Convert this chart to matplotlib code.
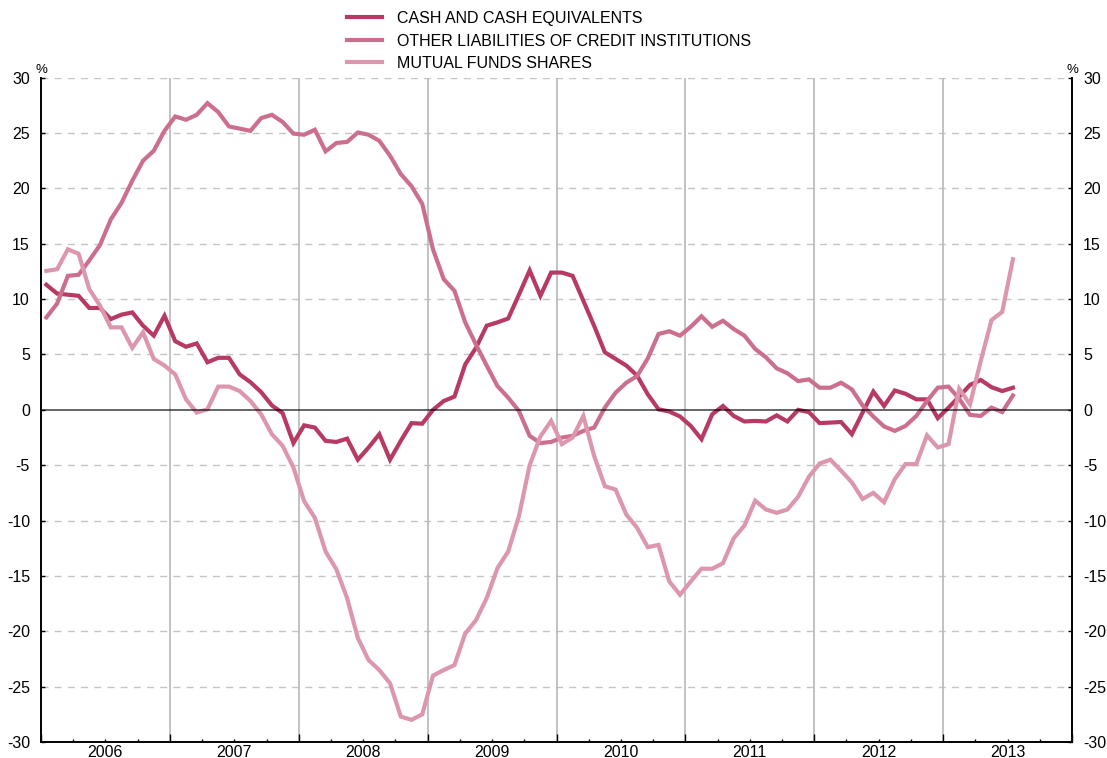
import matplotlib
matplotlib.use("Agg")
import matplotlib.pyplot as plt
import numpy as np
import pandas as pd
from matplotlib.ticker import FixedLocator, FuncFormatter, NullFormatter

plt.rcParams['font.family'] = ['Liberation Sans', 'DejaVu Sans']
plt.rcParams['axes.unicode_minus'] = False

# Monthly observations, Jan 2006 - Jul 2013 (annual % change)
months = pd.period_range('2006-01', '2013-07', freq='M')

cash = [11.3, 10.5, 10.4, 10.3, 9.2, 9.2, 8.2, 8.6, 8.8, 7.6, 6.7, 8.5,
        6.2, 5.7, 6.0, 4.3, 4.7, 4.7, 3.2, 2.5, 1.6, 0.4, -0.3, -3.0,
        -1.4, -1.6, -2.8, -2.9, -2.6, -4.5, -3.4, -2.2, -4.5, -2.8, -1.2, -1.25,
        0.0, 0.8, 1.2, 4.1, 5.6, 7.6, 7.9, 8.25, 10.4, 12.6, 10.3, 12.4,
        12.4, 12.1, 9.85, 7.6, 5.2, 4.6, 4.0, 3.1, 1.4, 0.05, -0.15, -0.6,
        -1.45, -2.65, -0.4, 0.35, -0.55, -1.05, -1.0, -1.05, -0.5, -1.05, 0.0, -0.2,
        -1.2, -1.15, -1.1, -2.2, -0.25, 1.65, 0.35, 1.75, 1.45, 0.95, 0.95, -0.75,
        0.2, 1.2, 2.25, 2.7, 2.05, 1.7, 2.0]

other_liabilities = [8.35, 9.6, 12.1, 12.2, 13.5, 14.9, 17.2, 18.7, 20.7, 22.5, 23.4, 25.2,
                     26.5, 26.2, 26.65, 27.7, 26.9, 25.6, 25.4, 25.2, 26.35, 26.65, 26.0, 24.95,
                     24.85, 25.3, 23.35, 24.1, 24.2, 25.05, 24.85, 24.3, 22.95, 21.3, 20.2, 18.6,
                     14.5, 11.8, 10.75, 7.9, 5.9, 4.0, 2.15, 1.1, -0.1, -2.35, -3.0, -2.9,
                     -2.5, -2.35, -1.9, -1.6, 0.2, 1.55, 2.45, 3.05, 4.65, 6.85, 7.1, 6.7,
                     7.5, 8.45, 7.5, 8.05, 7.3, 6.7, 5.5, 4.75, 3.75, 3.3, 2.6, 2.75,
                     2.0, 2.0, 2.45, 1.85, 0.4, -0.6, -1.5, -1.9, -1.45, -0.55, 0.8, 2.0,
                     2.1, 1.0, -0.45, -0.55, 0.2, -0.2, 1.3]

mutual_funds = [12.55, 12.7, 14.5, 14.1, 10.9, 9.4, 7.45, 7.45, 5.6, 7.0, 4.6, 4.0,
                3.2, 0.95, -0.25, 0.05, 2.1, 2.1, 1.7, 0.8, -0.4, -2.2, -3.25, -5.2,
                -8.25, -9.75, -12.8, -14.4, -17.0, -20.6, -22.6, -23.5, -24.7, -27.7, -28.0, -27.5,
                -24.0, -23.5, -23.05, -20.2, -19.0, -17.0, -14.3, -12.8, -9.6, -5.0, -2.4, -1.0,
                -3.1, -2.5, -0.55, -4.15, -6.9, -7.2, -9.45, -10.65, -12.4, -12.2, -15.5, -16.7,
                -15.5, -14.35, -14.35, -13.85, -11.6, -10.45, -8.2, -9.0, -9.3, -9.0, -7.85, -6.05,
                -4.85, -4.5, -5.5, -6.55, -8.05, -7.5, -8.35, -6.25, -4.9, -4.9, -2.3, -3.4,
                -3.1, 1.9, 0.5, 4.4, 8.1, 8.85, 13.6]

series_labels = ['CASH AND CASH EQUIVALENTS',
                 'OTHER LIABILITIES OF CREDIT INSTITUTIONS',
                 'MUTUAL FUNDS SHARES']
series_colors = ['#B73A62', '#CC6F8F', '#DC97AD']
years = list(range(2006, 2014))

# decimal-year position at the middle of each month
x = months.year + (months.month - 0.5) / 12.0

fig = plt.figure(figsize=(11.07, 7.58), dpi=100)
ax = fig.add_axes([41 / 1107, 1 - 742 / 758, (1072 - 41) / 1107, (742 - 77.7) / 758])

for vals, lab, col in zip([cash, other_liabilities, mutual_funds], series_labels, series_colors):
    ax.plot(x, vals, color=col, lw=3.0, label=lab, solid_joinstyle='miter', zorder=3)

ax.set_xlim(years[0], years[-1] + 1)
ax.set_ylim(-30, 30)

# horizontal dashed grid, year separators, zero line
yticks = np.arange(-30, 31, 5)
for yv in yticks:
    if yv != 0:
        ax.axhline(yv, color='#C4C4C4', lw=1.0, ls=(0, (5, 4.5)), zorder=1)
for yr in years[1:]:
    ax.axvline(yr, color='#B8B8B8', lw=1.2, zorder=1)
ax.axhline(0, color='black', lw=1.3, alpha=0.65, zorder=4)

# axes frame
ax.spines['top'].set_visible(False)
for s in ('left', 'right', 'bottom'):
    ax.spines[s].set_linewidth(1.4)
    ax.spines[s].set_color('black')

# y ticks on both sides
ax.set_yticks(yticks)
ax.set_yticklabels([str(v) for v in yticks])
ax.tick_params(axis='y', which='major', direction='in', length=3, width=1,
               left=True, right=True, labelleft=True, labelright=True,
               labelsize=11.5, pad=8, colors='black')

# x ticks: year boundaries (major), quarters (minor), year labels centred
ax.xaxis.set_major_locator(FixedLocator(years + [years[-1] + 1]))
ax.xaxis.set_major_formatter(NullFormatter())
minor_pos = [yr + q / 4 for yr in years for q in (1, 2, 3)]
ax.xaxis.set_minor_locator(FixedLocator(minor_pos))
ax.xaxis.set_minor_formatter(FuncFormatter(
    lambda v, p: str(int(round(v - 0.5))) if abs((v % 1) - 0.5) < 1e-6 else ''))
ax.tick_params(axis='x', which='major', direction='in', length=5.5, width=1)
ax.tick_params(axis='x', which='minor', direction='in', length=2.5, width=1,
               labelsize=11.5, pad=2)

ax.text(0, 1.002, '%', transform=ax.transAxes, ha='center', va='bottom', fontsize=9.5)
ax.text(1, 1.002, '%', transform=ax.transAxes, ha='center', va='bottom', fontsize=9.5)

fig.legend(loc='upper left', bbox_to_anchor=(347 / 1107, 1 - 11 / 758),
           frameon=False, fontsize=11.5, handlelength=2.2, handletextpad=0.95,
           labelspacing=0.47, borderpad=0, borderaxespad=0)

fig.savefig('out.png', dpi=100)
